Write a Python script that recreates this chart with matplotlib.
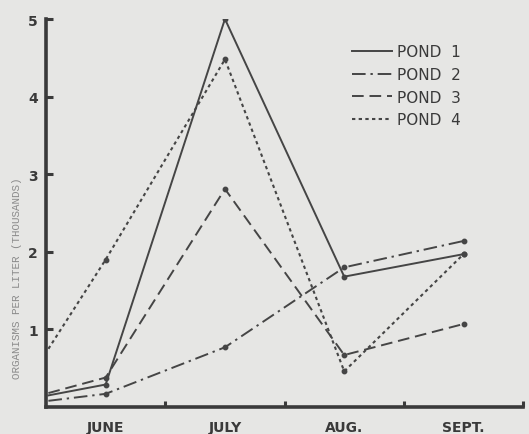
import matplotlib
matplotlib.use("Agg")
import matplotlib.pyplot as plt

# x positions in months from June 1 (0 = start of June)
x_pos = [0.02, 0.5, 1.5, 2.5, 3.5]
months = ["JUNE", "JULY", "AUG.", "SEPT."]
month_pos = [0.5, 1.5, 2.5, 3.5]

pond1 = [0.15, 0.29, 5.0, 1.68, 1.97]
pond2 = [0.08, 0.17, 0.77, 1.80, 2.14]
pond3 = [0.18, 0.38, 2.81, 0.67, 1.07]
pond4 = [0.75, 1.90, 4.48, 0.46, 1.97]
labels = ["POND  1", "POND  2", "POND  3", "POND  4"]

bg = "#e6e6e4"
ink = "#454545"

fig = plt.figure(figsize=(5.29, 4.35), dpi=100, facecolor=bg)
ax = fig.add_axes([0.087, 0.062, 0.902, 0.892], facecolor=bg)

styles = [
    dict(linestyle="-", linewidth=1.4),
    dict(linestyle=(0, (7, 2.5, 1.2, 2.5)), linewidth=1.4),
    dict(linestyle=(0, (6, 3)), linewidth=1.4),
    dict(linestyle=(0, (1.6, 1.6)), linewidth=1.5),
]
handles = []
for ys, st, lab in zip([pond1, pond2, pond3, pond4], styles, labels):
    ax.plot(x_pos[1:], ys[1:], "o", color=ink, markersize=3.2, zorder=3)
    h, = ax.plot(x_pos, ys, color=ink, label=lab, **st)
    handles.append(h)

ax.set_xlim(0, 4)
ax.set_ylim(0, 5)
for s in ["top", "right"]:
    ax.spines[s].set_visible(False)
for s in ["left", "bottom"]:
    ax.spines[s].set_linewidth(2.6)
    ax.spines[s].set_color("#3a3a3a")

ax.set_yticks([1, 2, 3, 4, 5])
ax.set_yticklabels(["1", "2", "3", "4", "5"])
ax.tick_params(axis="y", direction="in", length=5, width=2.2, color="#3a3a3a",
               labelsize=10, labelcolor="#3a3a3a", pad=6)
ax.set_xticks([1, 2, 3, 4])
ax.set_xticklabels([])
ax.set_xticks(month_pos, minor=True)
ax.set_xticklabels(months, minor=True)
ax.tick_params(axis="x", which="major", direction="in", length=4, width=2.2, color="#3a3a3a")
ax.tick_params(axis="x", which="minor", length=0, labelsize=10, labelcolor="#3a3a3a", pad=9)
for t in ax.get_xticklabels(minor=True) + ax.get_yticklabels():
    t.set_fontweight("bold")

ax.set_ylabel("ORGANISMS PER LITER (THOUSANDS)", family="Liberation Mono",
              fontsize=7.8, color="#8a8a8a", labelpad=9)
ax.yaxis.set_label_coords(-0.05, 0.335)

leg = ax.legend(handles=handles, loc="upper left", bbox_to_anchor=(0.612, 0.97),
                frameon=False, fontsize=11, handlelength=2.6, handletextpad=0.33,
                labelspacing=0.5, labelcolor="#3a3a3a")

fig.savefig("out.png", dpi=100, facecolor=bg)
